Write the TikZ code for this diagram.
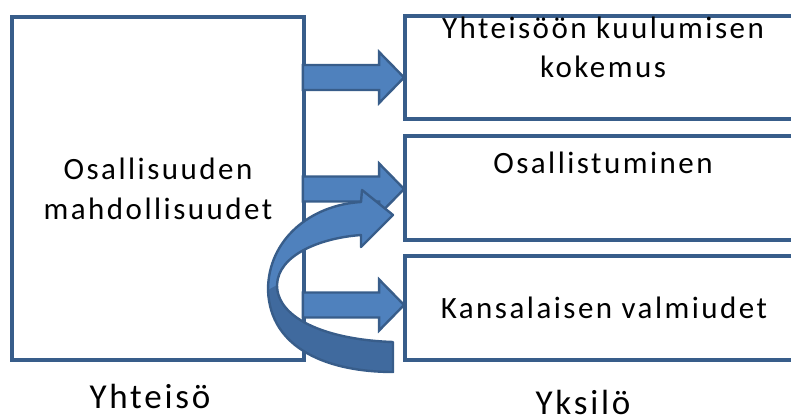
\documentclass[tikz,border=0pt]{standalone}
\usepackage{fontspec}
\setmainfont{Carlito}[LetterSpace=8]
\usetikzlibrary{calc}
\definecolor{kehys}{RGB}{56,93,138}
\definecolor{nuoli}{RGB}{79,129,189}
\definecolor{nuolitumma}{RGB}{64,106,158}

\begin{document}
\begin{tikzpicture}[x=1pt, y=-1pt,
		laatikko/.style={draw=kehys, line width=3.8pt, rectangle, inner sep=0pt},
		teksti/.style={font=\fontsize{31}{39.5}\selectfont, align=center, inner sep=0pt, anchor=base},
		otsikko/.style={font=\fontsize{35}{42}\selectfont, inner sep=0pt, anchor=base},
		nuolivirta/.style={fill=nuoli, draw=kehys, line width=2.4pt, line join=miter,
			to path={let \p1=(\tikztostart), \p2=(\tikztotarget) in
				(\x1,\y2+12.5pt) -- (\x2-25pt,\y2+12.5pt) -- (\x2-25pt,\y2+25.5pt) -- (\tikztotarget)
				-- (\x2-25pt,\y2-25.5pt) -- (\x2-25pt,\y2-12.5pt) -- (\x1,\y2-12.5pt) -- cycle}}]
			\useasboundingbox (0,0) rectangle (791,417);
			% laatikot
			\node[laatikko, minimum width=292pt, minimum height=343pt] (yhteiso) at (158,188.5) {};
			\node[laatikko, minimum width=425pt, minimum height=103pt] (kuulu) at (617.5,67.5) {};
			\node[laatikko, minimum width=425pt, minimum height=104pt] (osallistu) at (617.5,188) {};
			\node[laatikko, minimum width=425pt, minimum height=104pt] (valmius) at (617.5,308) {};
			% tekstit (base = viimeisen rivin perusviiva)
			\node[teksti] (t0) at (158,219) {Osallisuuden\\mahdollisuudet};
			\node[teksti] (t1) at (603,78) {Yhteisöön kuulumisen\\kokemus};
			\node[teksti] (t2) at (603,173) {Osallistuminen};
			\node[teksti] (t3) at (604,318) {Kansalaisen valmiudet};
			\node[otsikko] (yhteisolbl) at (150,408) {Yhteisö};
			\node[otsikko] (yksilolbl) at (583,414) {Yksilö};
			% nuolet
			\coordinate (k1) at ([xshift=1pt,yshift=-10pt]kuulu.west);
			\coordinate (k2) at ([xshift=1pt,yshift=-1pt]osallistu.west);
			\coordinate (k3) at ([xshift=1pt,yshift=3pt]valmius.west);
			\draw[nuolivirta] ([xshift=-3pt]yhteiso.east |- k1) to (k1);
			\draw[nuolivirta] ([xshift=-3pt]yhteiso.east |- k2) to (k2);
			\draw[nuolivirta] ([xshift=-3pt]yhteiso.east |- k3) to (k3);
			% kaareva nuoli
			\fill[nuoli] (393,372) .. controls (330,372) and (270,350) .. (268,290)
				.. controls (268,240) and (310,205) .. (361,202) -- (362,190) -- (393,215) -- (361,247) -- (361,235)
				.. controls (320,238) and (278,255) .. (277,285)
				.. controls (277,320) and (330,340) .. (393,342) -- cycle;
			\fill[nuolitumma] (268,290) -- (277,285) .. controls (277,320) and (330,340) .. (393,342)
				-- (393,372) .. controls (330,372) and (270,350) .. (268,290) -- cycle;
			\draw[kehys, line width=2.4pt, line join=round] (393,372) .. controls (330,372) and (270,350) .. (268,290)
				.. controls (268,240) and (310,205) .. (361,202) -- (362,190) -- (393,215) -- (361,247) -- (361,235)
				.. controls (320,238) and (278,255) .. (277,285)
				.. controls (277,320) and (330,340) .. (393,342) -- cycle;
		\end{tikzpicture}
\end{document}
